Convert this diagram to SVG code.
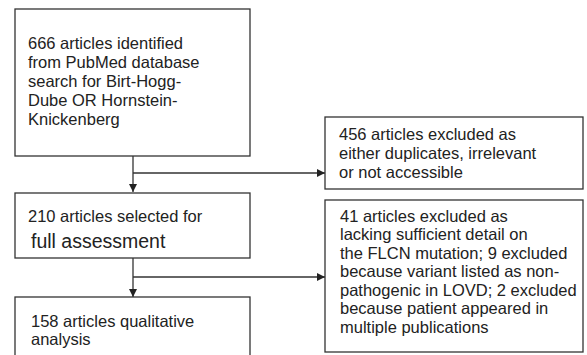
<svg xmlns="http://www.w3.org/2000/svg" width="587" height="355" viewBox="0 0 587 355">
<style>
.box{fill:#fff;stroke:#333;stroke-width:1.3}
.t{font-family:"Liberation Sans",Arial,sans-serif;font-size:16.5px;fill:#222}
.big{font-size:19.5px}
.ln{fill:none;stroke:#333;stroke-width:1.3}
</style>
<defs>
<marker id="ah" viewBox="0 0 10 10" refX="10" refY="5" markerWidth="8" markerHeight="9" markerUnits="userSpaceOnUse" orient="auto">
<path d="M0,0 L10,5 L0,10 z" fill="#222"/>
</marker>
</defs>
<rect width="587" height="355" fill="#fff"/>
<g id="connectors">
<path class="ln" d="M133,156 V192" marker-end="url(#ah)"/>
<path class="ln" d="M133,173 H325" marker-end="url(#ah)"/>
<path class="ln" d="M133,258 V297" marker-end="url(#ah)"/>
<path class="ln" d="M133,277 H325" marker-end="url(#ah)"/>
</g>
<g id="n1">
<rect class="box" x="15" y="9" width="235" height="147"/>
<text class="t"><tspan x="28" y="49">666 articles identified</tspan><tspan x="28" y="68">from PubMed database</tspan><tspan x="28" y="87">search for Birt-Hogg-</tspan><tspan x="28" y="106">Dube OR Hornstein-</tspan><tspan x="28" y="124.5">Knickenberg</tspan></text>
</g>
<g id="n2">
<rect class="box" x="325" y="117" width="258" height="72"/>
<text class="t"><tspan x="339" y="139.5">456 articles excluded as</tspan><tspan x="339" y="158.5">either duplicates, irrelevant</tspan><tspan x="339" y="177.5">or not accessible</tspan></text>
</g>
<g id="n3">
<rect class="box" x="15" y="193" width="235" height="65"/>
<text class="t"><tspan x="28" y="222">210 articles selected for</tspan><tspan class="big" x="31" y="248">full assessment</tspan></text>
</g>
<g id="n4">
<rect class="box" x="325" y="200" width="258" height="152"/>
<text class="t"><tspan x="340" y="221.5">41 articles excluded as</tspan><tspan x="340" y="240">lacking sufficient detail on</tspan><tspan x="340" y="258.5">the FLCN mutation; 9 excluded</tspan><tspan x="340" y="277">because variant listed as non-</tspan><tspan x="340" y="295.5">pathogenic in LOVD; 2 excluded</tspan><tspan x="340" y="314">because patient appeared in</tspan><tspan x="340" y="332.5">multiple publications</tspan></text>
</g>
<g id="n5">
<rect class="box" x="15" y="297" width="235" height="70"/>
<text class="t"><tspan x="31" y="326.5">158 articles qualitative</tspan><tspan x="31" y="345">analysis</tspan></text>
</g>
</svg>
